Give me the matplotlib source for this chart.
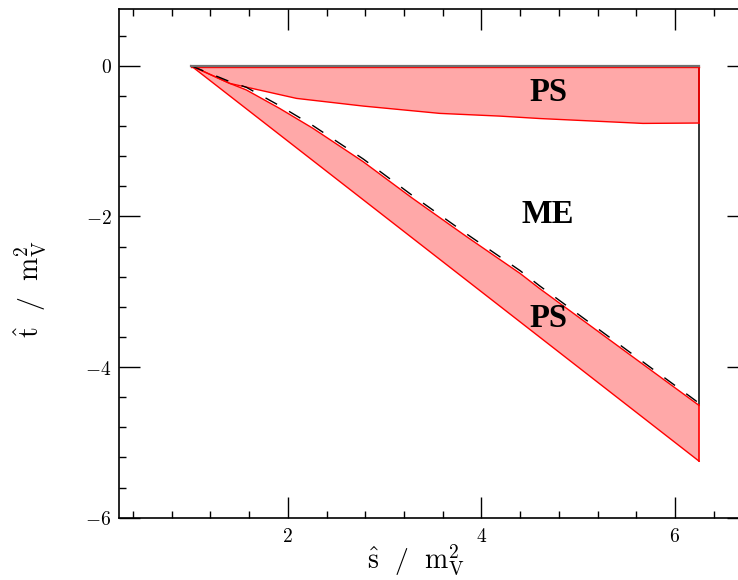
import matplotlib
matplotlib.use("Agg")
import matplotlib.pyplot as plt
from matplotlib.ticker import MultipleLocator, FuncFormatter

plt.rcParams['mathtext.fontset'] = 'cm'

# ---------------- data ----------------
s_max = 6.25
# upper parton-shower region: between t = 0 and this curve
ps_up_s = [1.0, 1.4, 2.09, 2.78, 3.57, 4.19, 4.6, 5.67, 6.25]
ps_up_t = [0.0, -0.234, -0.433, -0.535, -0.632, -0.668, -0.70, -0.765, -0.76]
# lower parton-shower region: between phase-space edge t = 1 - s and this curve
ps_lo_s = [1.0, 1.4, 1.57, 1.915, 2.26, 2.78, 3.29, 3.85, 4.40, 4.60, 6.25]
ps_lo_t = [0.0, -0.234, -0.32, -0.566, -0.831, -1.275, -1.761, -2.271, -2.757, -2.956, -4.51]
# phase-space edge
edge_s = [1.0, 6.25]
edge_t = [0.0, -5.25]
# dashed boundary of the matrix-element region
me_s = [1.0, 1.4, 1.57, 1.915, 2.26, 2.78, 3.29, 3.85, 4.40, 4.60, 6.25]
me_t = [0.0, -0.21, -0.285, -0.53, -0.795, -1.238, -1.725, -2.235, -2.72, -2.92, -4.48]

labels = ["PS", "ME", "PS"]
label_s = [4.69, 4.69, 4.69]
label_t = [-0.36, -1.97, -3.36]

fill_col = '#ffa8a8'

fig = plt.figure(figsize=(7.38, 5.80), dpi=100)
ax = fig.add_axes([118.5/738, 62.3/580, 629/738, 508.4/580])

# upper PS polygon
up_x = ps_up_s + [ps_up_s[-1], ps_up_s[0]]
up_y = ps_up_t + [0.0, 0.0]
ax.fill(up_x, up_y, color=fill_col, lw=0, zorder=1)
ax.plot(ps_up_s, ps_up_t, color='red', lw=1.0, zorder=3)
ax.plot([ps_up_s[0], ps_up_s[-1]], [-0.02, -0.02], color='red', lw=1.0, zorder=3)
ax.plot([ps_up_s[-1], ps_up_s[-1]], [ps_up_t[-1], 0.0], color='red', lw=1.2, zorder=3)

# lower PS polygon
lo_x = ps_lo_s + edge_s[::-1]
lo_y = ps_lo_t + edge_t[::-1]
ax.fill(lo_x, lo_y, color=fill_col, lw=0, zorder=1)
ax.plot(ps_lo_s, ps_lo_t, color='red', lw=1.0, zorder=3)
ax.plot(edge_s, edge_t, color='red', lw=1.0, zorder=3)
ax.plot([edge_s[-1], edge_s[-1]], [edge_t[-1], ps_lo_t[-1]], color='red', lw=1.2, zorder=3)

# dashed ME boundary
ax.plot(me_s, me_t, color='black', lw=1.0, dashes=(9.5, 10), zorder=4)

# kinematic limits
ax.plot([edge_s[0], s_max], [0.0, 0.0], color='#707070', lw=1.6, zorder=5)
ax.plot([s_max, s_max], [0.0, ps_lo_t[-1]], color='black', lw=1.1, zorder=2)

for txt, xs, yt in zip(labels, label_s, label_t):
    ax.text(xs, yt, txt, fontsize=23.5, fontweight='bold', family='Liberation Serif',
            ha='center', va='center', zorder=6)

ax.set_xlim(0.25, 6.75)
ax.set_ylim(-6, 0.75)
ax.xaxis.set_major_locator(MultipleLocator(2))
ax.xaxis.set_minor_locator(MultipleLocator(0.4))
ax.yaxis.set_major_locator(MultipleLocator(2))
ax.yaxis.set_minor_locator(MultipleLocator(0.4))
fmt = FuncFormatter(lambda v, p: r'$%d$' % int(round(v)))
ax.xaxis.set_major_formatter(fmt)
ax.yaxis.set_major_formatter(fmt)
ax.tick_params(which='both', direction='in', top=True, right=True, colors='black')
ax.tick_params(which='major', length=15, width=1.0, labelsize=14, pad=7)
ax.tick_params(which='minor', length=5, width=1.0)
ax.tick_params(axis='y', which='major', pad=5)
for sp in ax.spines.values():
    sp.set_linewidth(1.2)

fig.text(416/738, 1 - 560/580, r'$\hat{\rm s}\ \ /\ \ {\rm m}_{\rm V}^{2}$',
         fontsize=20, ha='center', va='center')
fig.text(30/738, 1 - 289/580, r'$\hat{\rm t}\ \ /\ \ {\rm m}_{\rm V}^{2}$',
         fontsize=20, ha='center', va='center', rotation=90)

fig.savefig('out.png', dpi=100)
